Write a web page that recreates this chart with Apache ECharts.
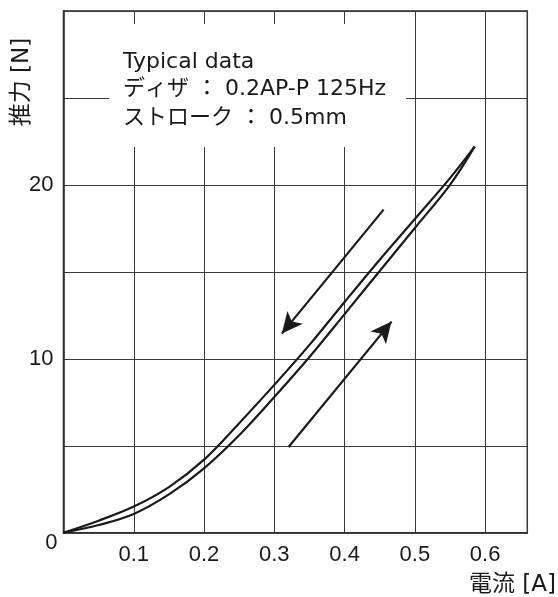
<!DOCTYPE html>
<html>
<head>
<meta charset="utf-8">
<script src="https://cdn.jsdelivr.net/npm/echarts@6/dist/echarts.min.js"></script>
<style>
  html, body { margin: 0; padding: 0; background: #fff; }
  #chart { width: 558px; height: 597px; }
</style>
</head>
<body>
<div id="chart"></div>
<script>
// 電流 [A]
const current = [0, 0.05, 0.1, 0.15, 0.2, 0.25, 0.3, 0.35, 0.4, 0.45, 0.5, 0.55, 0.585]
// 推力 [N] 増加時（右側の線）
const forceUp = [0, 0.44, 1.08, 2.2, 3.7, 5.6, 7.8, 10.1, 12.57, 15.05, 17.52, 20.0, 22.2]
// 推力 [N] 減少時（左側の線）
const forceDown = [0, 0.69, 1.5, 2.62, 4.2, 6.3, 8.5, 10.8, 13.27, 15.7, 18.04, 20.39, 22.2]

// 矢印 [開始点, 終点]
const arrowDown = [[0.4555, 18.58], [0.3107, 11.45]]
const arrowUp = [[0.3203, 4.93], [0.4668, 12.14]]

const noteLines = ['Typical data', 'ディザ ： 0.2AP-P 125Hz', 'ストローク ： 0.5mm']
const xName = '電流 [A]'
const yName = '推力 [N]'

const FONT = '"Liberation Sans", "Noto Sans CJK JP", sans-serif'
const WIDE = '"DejaVu Sans", "Noto Sans CJK JP", sans-serif'
const INK = '#1a1a1a'

const chart = echarts.init(document.getElementById('chart'))

// 注記の各行の位置
const noteY = [62, 89.5, 118]

const option = {
  animation: false,
  grid: {
    left: 63.5,
    right: 30.7,
    top: 11,
    bottom: 64.3,
    show: true,
    borderColor: '#2a2a2a',
    borderWidth: 1.5
  },
  xAxis: {
    type: 'value',
    min: 0,
    max: 0.66,
    interval: 0.1,
    axisLine: { show: true, lineStyle: { color: '#2a2a2a', width: 1.5 } },
    axisTick: { show: false },
    axisLabel: {
      color: INK,
      fontFamily: FONT,
      fontSize: 22,
      margin: 11,
      formatter: v => (v > 0 && v < 0.65) ? v.toFixed(1) : ''
    },
    splitLine: { show: true, lineStyle: { color: '#3a3a3a', width: 1 } }
  },
  yAxis: {
    type: 'value',
    min: 0,
    max: 30,
    interval: 5,
    axisLine: { show: true, lineStyle: { color: '#2a2a2a', width: 1.5 } },
    axisTick: { show: false },
    axisLabel: {
      color: INK,
      fontFamily: FONT,
      fontSize: 22,
      margin: 10,
      formatter: v => (v > 0 && v < 30 && v % 10 === 0) ? String(v) : ''
    },
    splitLine: { show: true, lineStyle: { color: '#3a3a3a', width: 1 } }
  },
  series: [
    {
      type: 'line',
      data: current.map((x, i) => [x, forceUp[i]]),
      smooth: 0.35,
      showSymbol: false,
      lineStyle: { color: INK, width: 2.2 },
      markLine: {
        silent: true,
        symbol: ['none', 'arrow'],
        symbolSize: [15, 21],
        label: { show: false },
        lineStyle: { color: INK, width: 2.2, type: 'solid' },
        data: [
          [{ coord: arrowDown[0] }, { coord: arrowDown[1] }],
          [{ coord: arrowUp[0] }, { coord: arrowUp[1] }]
        ]
      }
    },
    {
      type: 'line',
      data: current.map((x, i) => [x, forceDown[i]]),
      smooth: 0.35,
      showSymbol: false,
      lineStyle: { color: INK, width: 2.2 }
    }
  ],
  graphic: [
    {
      type: 'rect',
      z: 50,
      shape: { x: 109, y: 24, width: 297, height: 123 },
      style: { fill: '#fff' }
    },
    ...noteLines.map((t, i) => ({
      type: 'text',
      z: 51,
      x: 123,
      y: noteY[i],
      style: {
        text: t,
        font: '22px ' + WIDE,
        fill: INK,
        align: 'left',
        verticalAlign: 'middle'
      }
    })),
    {
      type: 'text',
      z: 51,
      x: 57.5,
      y: 543,
      style: {
        text: '0',
        font: '22px ' + FONT,
        fill: INK,
        align: 'right',
        verticalAlign: 'middle'
      }
    },
    {
      type: 'text',
      z: 51,
      x: 556,
      y: 585,
      style: {
        text: xName,
        font: '23px ' + WIDE,
        fill: INK,
        align: 'right',
        verticalAlign: 'middle'
      }
    },
    {
      type: 'text',
      z: 51,
      x: 22.5,
      y: 82,
      rotation: Math.PI / 2,
      style: {
        text: yName,
        font: '23px ' + WIDE,
        fill: INK,
        align: 'center',
        verticalAlign: 'middle'
      }
    }
  ]
}

chart.setOption(option)
window.addEventListener('resize', () => chart.resize())
</script>
</body>
</html>
